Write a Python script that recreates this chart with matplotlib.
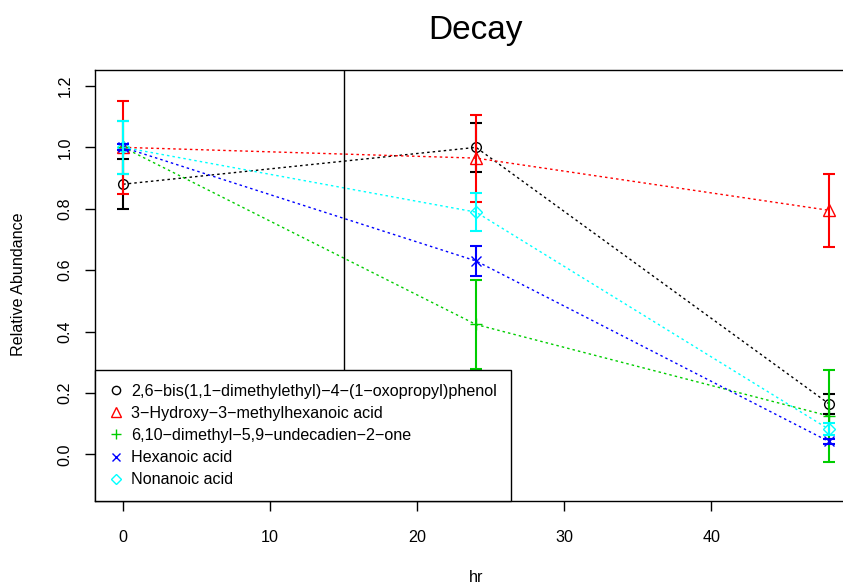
import matplotlib
matplotlib.use('Agg')
import matplotlib.pyplot as plt

plt.rcParams['font.family'] = ['Liberation Sans', 'DejaVu Sans']

hours = [0, 24, 48]
names = ['2,6\u2212bis(1,1\u2212dimethylethyl)\u22124\u2212(1\u2212oxopropyl)phenol',
         '3\u2212Hydroxy\u22123\u2212methylhexanoic acid',
         '6,10\u2212dimethyl\u22125,9\u2212undecadien\u22122\u2212one',
         'Hexanoic acid',
         'Nonanoic acid']
means = [[0.88, 1.00, 0.165],
         [1.00, 0.965, 0.795],
         [1.00, 0.423, 0.125],
         [1.00, 0.630, 0.042],
         [1.00, 0.789, 0.082]]
errs = [[0.082, 0.08, 0.033],
        [0.152, 0.142, 0.119],
        [0.087, 0.144, 0.150],
        [0.010, 0.050, 0.008],
        [0.087, 0.062, 0.020]]
colors = ['black', 'red', '#00CD00', 'blue', 'cyan']
markers = ['o', '^', '+', 'x', 'D']
msizes = [7, 8, 9, 7, 6.5]

fs = 11.6

fig = plt.figure(figsize=(8.43, 5.85), dpi=100)
ax = fig.add_axes([95/843, 84/585, 762/843, 431/585])

for m, e, c, mk, ms in zip(means, errs, colors, markers, msizes):
    ax.plot(hours, m, color=c, linestyle=(0, (1.8, 2.2)), lw=1)
    ax.plot(hours, m, linestyle='none', marker=mk, ms=ms, mfc='none', mec=c, mew=1)
for m, e, c in zip(means, errs, colors):
    ax.errorbar(hours, m, yerr=e, fmt='none', ecolor=c, elinewidth=1.5,
                capsize=4.5, capthick=1.5)

ax.axvline(15, color='black', lw=1)

ax.set_xlim(-1.92, 49.92)
ax.set_ylim(-0.152, 1.252)
ax.set_xticks([0, 10, 20, 30, 40])
ax.set_yticks([0.0, 0.2, 0.4, 0.6, 0.8, 1.0, 1.2])
ax.set_yticklabels(['0.0', '0.2', '0.4', '0.6', '0.8', '1.0', '1.2'],
                   rotation=90, va='center')
ax.tick_params(direction='out', length=7.5, width=1, labelsize=fs)
ax.tick_params(axis='x', pad=13.5)
ax.tick_params(axis='y', pad=8.5)
for s in ax.spines.values():
    s.set_linewidth(1)

handles = [plt.Line2D([], [], linestyle='none', marker=mk, ms=ms * 0.85,
                      mfc='none', mec=c, mew=1)
           for c, mk, ms in zip(colors, markers, msizes)]
leg = ax.legend(handles, names, loc='lower left', borderaxespad=0,
                fancybox=False, edgecolor='black', framealpha=1,
                fontsize=fs, handlelength=0.9, handletextpad=0.5,
                labelspacing=0.44, borderpad=0.85)
leg.get_frame().set_linewidth(1)

fig.text(476/843, 1 - 30/585, 'Decay', fontsize=24, ha='center', va='center')
fig.text(476/843, 1 - 578/585, 'hr', fontsize=fs, ha='center', va='center')
fig.text(19/843, 1 - 284/585, 'Relative Abundance', fontsize=fs,
         rotation=90, ha='center', va='center')

fig.savefig('out.png', dpi=100)
